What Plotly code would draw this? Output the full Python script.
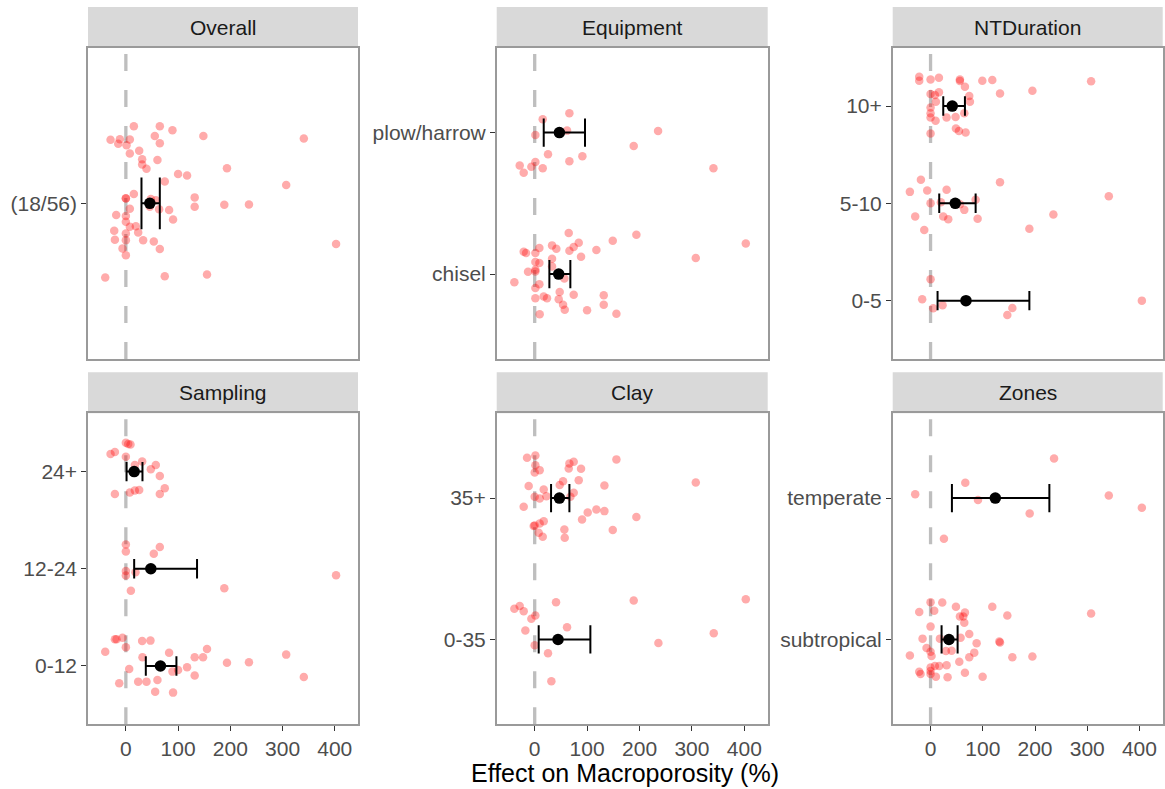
import plotly.graph_objects as go

# ---------------- DATA ----------------
panel_titles = ["Overall", "Equipment", "NTDuration", "Sampling", "Clay", "Zones"]

overall_labels = ["(18/56)"]
overall_x = [15.3, 65, 89.2, 148.4, 340.8, -29.3, -11.5, -14.6, 1.3, 7.6, 55.4, 65, 7.6, 25.5, 31.2, 60.5,
             31.2, 39.5, 193.6, 100, 117.2, 307, 74.5, 0, 15.3, 47.8, 57.3, 45.9, 63.7, 7.6, 82.8, 131.8,
             131.8, 188.5, 235.7, -18.5, 0, 0, 90.4, 7.6, 19.1, 23.6, -22.3, 0, -21, 0, 33.1, 53.5, -6.4,
             65, 0, 402.5, -39.5, 74.5, 155.4, 0]
overall_dy = [0.297, 0.297, 0.282, 0.26, 0.25, 0.245, 0.247, 0.23, 0.224, 0.246, 0.26, 0.232, 0.192, 0.203,
              0.17, 0.167, 0.15, 0.133, 0.135, 0.113, 0.107, 0.071, 0.084, 0.019, 0.036, 0.017, 0.012,
              -0.013, -0.023, -0.021, -0.026, 0.023, -0.013, -0.005, -0.004, -0.045, -0.049, -0.071,
              -0.062, -0.09, -0.088, -0.112, -0.106, -0.116, -0.14, -0.142, -0.142, -0.147, -0.174,
              -0.176, -0.2, -0.157, -0.286, -0.281, -0.274, 0.02]
overall_mean = [45.9]
overall_lo = [29.9]
overall_hi = [65.0]

equip_labels = ["chisel", "plow/harrow"]
equip_chisel_x = [64.9, 194, 402.7, 84, 74.4, 148.9, 117.7, 33.1, 41.3, 8.9, -21, -16.5, 1.3, 66.2, 88.4,
                  307.3, 1.3, 8.9, 33.1, -12.7, 1.3, 56.6, -38.8, 8.9, 1.3, 47.7, 74.4, 131.7, 1.3, 17.2,
                  23.5, 45.8, 54.1, 131.7, 57.3, 99.9, 9.5, 155.9, 33.1, 1.3]
equip_chisel_dy = [0.29, 0.278, 0.217, 0.222, 0.191, 0.236, 0.17, 0.203, 0.179, 0.184, 0.158, 0.149, 0.149,
                   0.165, 0.123, 0.113, 0.085, 0.078, 0.108, 0.017, 0.019, -0.031, -0.057, -0.071, -0.099,
                   -0.127, -0.146, -0.149, -0.17, -0.158, -0.17, -0.177, -0.217, -0.217, -0.252, -0.255,
                   -0.283, -0.281, 0.054, 0.03]
equip_plow_x = [66.2, 15.3, 61.7, 1.3, 235.4, 188.9, 25.4, 91, 66.2, 1.3, -28.6, -6.4, 15.3, -21, 341]
equip_plow_dy = [0.137, 0.094, 0.014, -0.017, 0.012, -0.094, -0.153, -0.167, -0.203, -0.208, -0.233,
                 -0.241, -0.252, -0.283, -0.252]
equip_mean = [45.8, 47.1]
equip_lo = [28.0, 17.2]
equip_hi = [68.0, 96.0]

ntd_labels = ["0-5", "5-10", "10+"]
ntd_0_5_x = [0, -16, 5.1, 23, 156.6, 147, 404.6]
ntd_0_5_dy = [0.219, 0.014, -0.079, -0.048, -0.075, -0.147, 0]
ntd_5_10_x = [-18.5, 133, -39.6, -6.4, 30.7, 341.3, 0, 19.8, 86.3, 64.6, 235.2, -29.4, 24.3, 33.9, 90.1,
              -12.1, 189.2, 56.2]
ntd_5_10_dy = [0.242, 0.218, 0.118, 0.132, 0.139, 0.074, 0, 0.012, 0.036, -0.067, -0.115, -0.135, -0.135,
               -0.163, -0.159, -0.273, -0.262, -0.009]
ntd_10_x = [-21.7, -21.7, 0, 16, 56.2, 56.2, 99.1, 118.2, 307.4, 65.8, 195, 133, 0, 8.3, 16, 74.1, 75.4,
            10.2, 0, 0, 0, 9.6, 30.7, 47.9, 64.6, 48.6, 54.3, 67.1, 0]
ntd_10_dy = [0.302, 0.261, 0.274, 0.292, 0.274, 0.257, 0.261, 0.267, 0.254, 0.199, 0.158, 0.13, 0.123,
             0.113, 0.141, 0.103, 0.045, 0.045, -0.014, -0.075, -0.117, -0.151, -0.117, -0.113, -0.075,
             -0.23, -0.257, -0.271, -0.281]
ntd_mean = [67.8, 47.3, 41.5]
ntd_lo = [13.4, 16.6, 24.3]
ntd_hi = [189.2, 86.3, 65.8]

samp_labels = ["0-12", "12-24", "24+"]
samp_0_12_x = [-17.8, -6.4, 0, 31.2, 47.1, 155.4, -39.5, 82.8, 31.8, 131.8, 147.8, 307, 193.6, 235.7,
               117.2, 100, 89.2, 6.4, 131.8, 340.8, -12.7, 23.6, 39.5, 60.5, 56.1, 90.4, -21]
samp_0_12_dy = [0.274, 0.291, 0.192, 0.257, 0.261, 0.175, 0.147, 0.137, 0.089, 0.089, 0.089, 0.117, 0.034,
                0.038, -0.014, -0.041, -0.058, -0.031, -0.099, -0.113, -0.178, -0.161, -0.161, -0.144,
                -0.264, -0.274, 0.274]
samp_12_24_x = [0, 0, 65, 53.5, 0, 0, 18.5, 402.5, 188.5, 9.6]
samp_12_24_dy = [0.249, 0.177, 0.225, 0.156, -0.022, -0.07, -0.036, -0.067, -0.2, -0.225]
samp_24_x = [0, 4.5, 8.9, -29.3, -21, 0, 31.2, 17.2, 57.3, 47.8, 65, 74.5, 65, -21, 7.6, 17.2, 25.5]
samp_24_dy = [0.298, 0.285, 0.278, 0.182, 0.202, 0.154, 0.103, 0.069, 0.069, 0.024, -0.045, -0.171, -0.23,
              -0.23, -0.216, -0.195, -0.189]
samp_mean = [66.2, 47.8, 15.9]
samp_lo = [38.2, 15.9, 1.3]
samp_hi = [96.8, 136.3, 31.8]

clay_labels = ["0-35", "35+"]
clay_0_35_x = [-38.8, -28.6, -21, 40.7, 188.9, 402.7, 1.3, -6.4, -17.8, 61.7, 341.6, 0, 236, 25.4, 31.8]
clay_0_35_dy = [0.218, 0.237, 0.199, 0.263, 0.275, 0.284, 0.169, 0.147, 0.063, 0.086, 0.044, -0.041,
                -0.025, -0.098, -0.296]
clay_35_x = [-14.6, 1.3, 155.9, 66.2, 74.4, 64.9, 88.4, 1.3, 0, 9.5, 84, 307.3, 54.1, 47.7, 133, -11.5,
             17.2, 74.4, 68.1, 0, 9.5, 22.3, -21, 117.7, 101.1, 133, 194, 90.3, 17.2, 9.5, 0, 56.6, 148.9,
             7.6, 15.3, 57.3, -1.9]
clay_35_dy = [0.285, 0.302, 0.274, 0.245, 0.257, 0.21, 0.208, 0.233, 0.182, 0.198, 0.127, 0.111, 0.12,
              0.092, 0.09, 0.085, 0.061, 0.038, 0.009, 0.009, -0.002, 0.014, -0.061, -0.08, -0.101, -0.092,
              -0.134, -0.151, -0.163, -0.179, -0.193, -0.222, -0.226, -0.245, -0.274, -0.281, -0.198]
clay_mean = [44.5, 47.1]
clay_lo = [7.6, 31.2]
clay_hi = [106.2, 66.2]

zone_labels = ["subtropical", "temperate"]
zone_sub_x = [0, 22.4, 48.6, 118.2, -21.7, 7, 65.8, 56.2, 62.6, 147, 307.4, 64.6, 0, 74.1, -15.3, 17.9,
              57.5, 88.2, 131.7, 133, -7.7, 0, 29.4, 40.3, 83.7, -39.6, 1.9, 74.1, 156.6, 195, 55, 30.7, 0,
              8.3, 16.6, -21.7, -19.2, 0, 10.2, 32.6, 65.8, 99.7, 0]
zone_sub_dy = [0.263, 0.261, 0.232, 0.232, 0.195, 0.204, 0.19, 0.162, 0.162, 0.169, 0.183, 0.119, 0.091,
               0.039, 0.006, 0.006, 0.013, -0.027, -0.015, -0.022, -0.06, -0.086, -0.081, -0.079, -0.093,
               -0.114, -0.117, -0.126, -0.126, -0.121, -0.157, -0.183, -0.199, -0.187, -0.187, -0.228,
               -0.244, -0.223, -0.263, -0.267, -0.235, -0.263, -0.244]
zone_temp_x = [236.5, 66.5, -29.4, 90.8, 341.3, 404.6, 189.8, 25.6]
zone_temp_dy = [0.281, 0.108, 0.028, -0.014, 0.019, -0.068, -0.108, -0.288]
zone_mean = [35.2, 124.0]
zone_lo = [21.1, 40.9]
zone_hi = [51.8, 227.5]

x_ticks = [0, 100, 200, 300, 400]

panels = [
    dict(labels=overall_labels, groups=[(overall_x, overall_dy)],
         mean=overall_mean, lo=overall_lo, hi=overall_hi),
    dict(labels=equip_labels, groups=[(equip_chisel_x, equip_chisel_dy), (equip_plow_x, equip_plow_dy)],
         mean=equip_mean, lo=equip_lo, hi=equip_hi),
    dict(labels=ntd_labels, groups=[(ntd_0_5_x, ntd_0_5_dy), (ntd_5_10_x, ntd_5_10_dy), (ntd_10_x, ntd_10_dy)],
         mean=ntd_mean, lo=ntd_lo, hi=ntd_hi),
    dict(labels=samp_labels, groups=[(samp_0_12_x, samp_0_12_dy), (samp_12_24_x, samp_12_24_dy), (samp_24_x, samp_24_dy)],
         mean=samp_mean, lo=samp_lo, hi=samp_hi),
    dict(labels=clay_labels, groups=[(clay_0_35_x, clay_0_35_dy), (clay_35_x, clay_35_dy)],
         mean=clay_mean, lo=clay_lo, hi=clay_hi),
    dict(labels=zone_labels, groups=[(zone_sub_x, zone_sub_dy), (zone_temp_x, zone_temp_dy)],
         mean=zone_mean, lo=zone_lo, hi=zone_hi),
]

# ---------------- LAYOUT ----------------
W, H = 1165, 789
cols_px = [(88, 358), (496.7, 767.7), (892.7, 1162.7)]
rows_px = [(47.7, 359), (413.3, 724.3)]
strips_px = [(7, 47.7), (372.3, 413.3)]
x_range = [-72.5, 444.5]
FONT = "Liberation Sans, Arial, sans-serif"
TICK_COL = "#4D4D4D"
BORDER = "#9A9A9A"

fig = go.Figure()
layout = dict(width=W, height=H, margin=dict(l=0, r=0, t=0, b=0),
              paper_bgcolor="white", plot_bgcolor="white", showlegend=False,
              font=dict(family=FONT, color=TICK_COL, size=21))
shapes, annotations = [], []

for i, p in enumerate(panels):
    r, c = divmod(i, 3)
    k = "" if i == 0 else str(i + 1)
    xa, ya = "x" + k, "y" + k
    n = len(p["labels"])
    x0p, x1p = cols_px[c]
    y0p, y1p = rows_px[r]
    cap_half = 0.1 * (y1p - y0p) / (n + 0.2)

    # jittered raw points
    for gi, (xs, dys) in enumerate(p["groups"]):
        fig.add_trace(go.Scatter(
            x=xs, y=[gi + 1 + d for d in dys], mode="markers", xaxis=xa, yaxis=ya,
            marker=dict(size=8.5, color="rgba(255,0,0,0.33)", line=dict(width=0)),
            hoverinfo="x"))
    # mean with CI
    cats = list(range(1, n + 1))
    fig.add_trace(go.Scatter(
        x=p["mean"], y=cats, mode="markers", xaxis=xa, yaxis=ya,
        marker=dict(size=11.5, color="black"),
        error_x=dict(type="data", symmetric=False,
                     array=[h - m for h, m in zip(p["hi"], p["mean"])],
                     arrayminus=[m - l for m, l in zip(p["mean"], p["lo"])],
                     color="black", thickness=2, width=cap_half)))

    layout["xaxis" + k] = dict(
        domain=[x0p / W, x1p / W], range=x_range, anchor=ya,
        showgrid=False, zeroline=False, showline=True, mirror=True,
        linecolor=BORDER, linewidth=1.5,
        tickvals=x_ticks, ticks="outside" if r == 1 else "", ticklen=5, tickwidth=1.2,
        tickcolor="#333333", showticklabels=(r == 1),
        tickfont=dict(size=21, color=TICK_COL, family=FONT))
    layout["yaxis" + k] = dict(
        domain=[1 - y1p / H, 1 - y0p / H], range=[0.4, n + 0.6], anchor=xa,
        showgrid=False, zeroline=False, showline=True, mirror=True,
        linecolor=BORDER, linewidth=1.5,
        tickvals=cats, ticktext=p["labels"], ticks="outside", ticklen=5, tickwidth=1.2,
        tickcolor="#333333", tickfont=dict(size=21, color=TICK_COL, family=FONT))

    # zero reference line
    shapes.append(dict(type="line", xref=xa, yref=ya + " domain", x0=0, x1=0, y0=0, y1=1,
                       line=dict(color="#BEBEBE", width=3.3, dash="17px,19px"), layer="below"))
    # strip
    s0, s1 = strips_px[r]
    shapes.append(dict(type="rect", xref="paper", yref="paper", x0=x0p / W, x1=x1p / W,
                       y0=1 - s1 / H, y1=1 - s0 / H, fillcolor="#D9D9D9", line=dict(width=0),
                       layer="below"))
    annotations.append(dict(text=panel_titles[i], xref="paper", yref="paper",
                            x=(x0p + x1p) / 2 / W, y=1 - (s0 + s1) / 2 / H,
                            showarrow=False, xanchor="center", yanchor="middle",
                            font=dict(size=21, color="#1A1A1A", family=FONT)))

annotations.append(dict(text="Effect on Macroporosity (%)", xref="paper", yref="paper",
                        x=(88 + 1162.7) / 2 / W, y=1 - 772.5 / H, showarrow=False,
                        xanchor="center", yanchor="middle", borderpad=0,
                        font=dict(size=25, color="black", family=FONT)))

layout["shapes"] = shapes
layout["annotations"] = annotations
fig.update_layout(**layout)
fig.write_html("out.html")
